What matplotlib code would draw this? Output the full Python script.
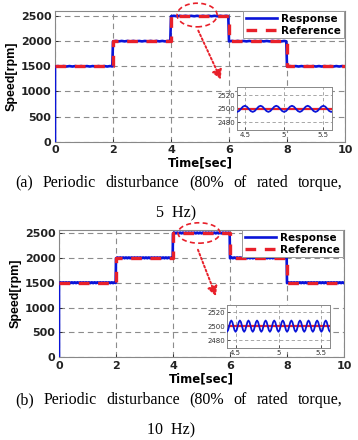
import matplotlib
matplotlib.use('Agg')
import numpy as np
import matplotlib.pyplot as plt
from matplotlib.patches import Ellipse
from matplotlib.lines import Line2D

# reference speed profile
step_times = [0, 2, 4, 6, 8, 10]
step_levels = [1500, 2000, 2500, 2000, 1500, 1500]

# one period of the speed ripple [rpm]
ripple_5hz = [-4.5, -3.2, 0.0, 3.2, 4.5, 3.2, 0.0, -3.2]
ripple_10hz = [-8.0, -5.7, 0.0, 5.7, 8.0, 5.7, 0.0, -5.7]
freqs = [5, 10]

x_ticks = [0, 2, 4, 6, 8, 10]
y_ticks = [0, 500, 1000, 1500, 2000, 2500]
inset_xticks = [4.5, 5, 5.5]
inset_yticks = [2480, 2500, 2520]

captions = ["(a) Periodic disturbance (80% of rated torque,",
            "(b) Periodic disturbance (80% of rated torque,"]
caption_tails = ["5  Hz)", "10  Hz)"]

W, H = 358, 440
fig = plt.figure(figsize=(W / 100, H / 100), dpi=100)

BLUE = "#0a14d8"
RED = "#e8202a"


def response(ripple, freq):
    n = len(ripple)
    dt = 1.0 / freq / n
    t = np.arange(0, 10 + dt / 2, dt)
    idx = np.searchsorted(step_times, t, side="right") - 1
    idx = np.clip(idx, 0, len(step_levels) - 1)
    level = np.array(step_levels, dtype=float)[idx]
    rip = np.resize(np.array(ripple), t.size)
    y = level + rip
    t = np.concatenate([[0.0], t])
    y = np.concatenate([[0.0], y])
    return t, y


def justify(words, x0, x1, y, **kw):
    # y in image pixels from the top
    texts = [fig.text(0, 1 - y / H, w, va="center", ha="left", **kw) for w in words]
    fig.canvas.draw()
    r = fig.canvas.get_renderer()
    widths = [t.get_window_extent(r).width for t in texts]
    gap = ((x1 - x0) - sum(widths)) / (len(words) - 1)
    x = x0
    for t, w in zip(texts, widths):
        t.set_x(x / W)
        x += w + gap


# layouts in pixels: main (left, top, right, bottom), inset, inset limits
layouts = [
    dict(main=(55, 11, 345, 141.7), ylim=(0, 2600),
         inset=(237, 87, 332, 130), ixlim=(4.4, 5.61), iylim=(2469, 2532),
         ell=(4.9, 2520, 1.38, 470), arrow=((4.9, 2260), (5.76, 1190)),
         cap_y=183, tail_y=213, tail_x=176),
    dict(main=(59, 230, 344, 357.3), ylim=(0, 2560),
         inset=(227, 305, 330, 348), ixlim=(4.4, 5.6), iylim=(2469, 2530),
         ell=(4.91, 2500, 1.47, 410), arrow=((4.84, 2215), (5.54, 1180)),
         cap_y=400, tail_y=430, tail_x=171),
]

ripples = [ripple_5hz, ripple_10hz]

for k, lay in enumerate(layouts):
    l, tp, rt, bt = lay["main"]
    ax = fig.add_axes([l / W, 1 - bt / H, (rt - l) / W, (bt - tp) / H])
    t, y = response(ripples[k], freqs[k])

    ax.plot(t, y, color=BLUE, lw=1.9, zorder=3)
    ax.step(step_times, step_levels, where="post", color=RED, lw=2.4,
            dashes=(3.2, 2.6), zorder=4)

    ax.set_xlim(0, 10)
    ax.set_ylim(*lay["ylim"])
    ax.set_xticks(x_ticks)
    ax.set_yticks(y_ticks)
    ax.grid(True, color="#8c8c8c", ls=(0, (5, 3.5)), lw=0.8)
    ax.tick_params(direction="in", length=2.5, width=0.6, pad=2.5,
                   labelsize=8, colors="#222222")
    for lab in ax.get_xticklabels() + ax.get_yticklabels():
        lab.set_fontweight("bold")
        lab.set_family("DejaVu Sans")
    for sp in ax.spines.values():
        sp.set_color("#888888")
        sp.set_linewidth(0.8)
    ax.set_xlabel("Time[sec]", fontsize=8.5, fontweight="bold",
                  family="DejaVu Sans", labelpad=1)
    ax.set_ylabel("Speed[rpm]", fontsize=9, fontweight="bold",
                  family="Liberation Sans", labelpad=2)

    handles = [Line2D([], [], color=BLUE, lw=1.9),
               Line2D([], [], color=RED, lw=2.4, dashes=(3.2, 2.6))]
    leg = ax.legend(handles, ["Response", "Reference"], loc="upper right",
                    bbox_to_anchor=(1.0, 1.005), borderaxespad=0.1,
                    fancybox=False, edgecolor="#999999", framealpha=1,
                    handlelength=3.0, handletextpad=0.4, borderpad=0.25,
                    labelspacing=0.15, prop=dict(family="DejaVu Sans",
                                                 weight="bold", size=7.5))
    leg.get_frame().set_linewidth(0.7)

    ex, ey, ew, eh = lay["ell"]
    ax.add_patch(Ellipse((ex, ey), ew, eh, fill=False, ec=RED, lw=1.2,
                         ls=(0, (3, 2)), clip_on=False, zorder=6))
    (ax0, ay0), (ax1, ay1) = lay["arrow"]
    ax.annotate("", xy=(ax1, ay1), xytext=(ax0, ay0),
                arrowprops=dict(arrowstyle="-|>,head_length=0.55,head_width=0.3",
                                color=RED, lw=1.4, ls=(0, (1, 1.2))),
                zorder=6)

    il, it, ir, ib = lay["inset"]
    ins = fig.add_axes([il / W, 1 - ib / H, (ir - il) / W, (ib - it) / H])
    ins.plot([0, 10], [2500, 2500], color=RED, lw=1.6, zorder=2)
    ins.plot(t, y, color=BLUE, lw=1.3, zorder=3)
    ins.set_xlim(*lay["ixlim"])
    ins.set_ylim(*lay["iylim"])
    ins.set_xticks(inset_xticks)
    ins.set_xticklabels(["4.5", "5", "5.5"])
    ins.set_yticks(inset_yticks)
    ins.grid(True, color="#999999", ls=(0, (4, 3)), lw=0.6)
    ins.tick_params(direction="in", length=2, width=0.5, pad=1.5,
                    labelsize=5, colors="#333333")
    for sp in ins.spines.values():
        sp.set_color("#888888")
        sp.set_linewidth(0.7)

    justify(captions[k].split(" "), 15, 343, lay["cap_y"],
            family="Liberation Serif", fontsize=11.5)
    fig.text(lay["tail_x"] / W, 1 - lay["tail_y"] / H, caption_tails[k],
             ha="center", va="center", family="Liberation Serif", fontsize=11.5)

fig.savefig("out.png", dpi=100)
